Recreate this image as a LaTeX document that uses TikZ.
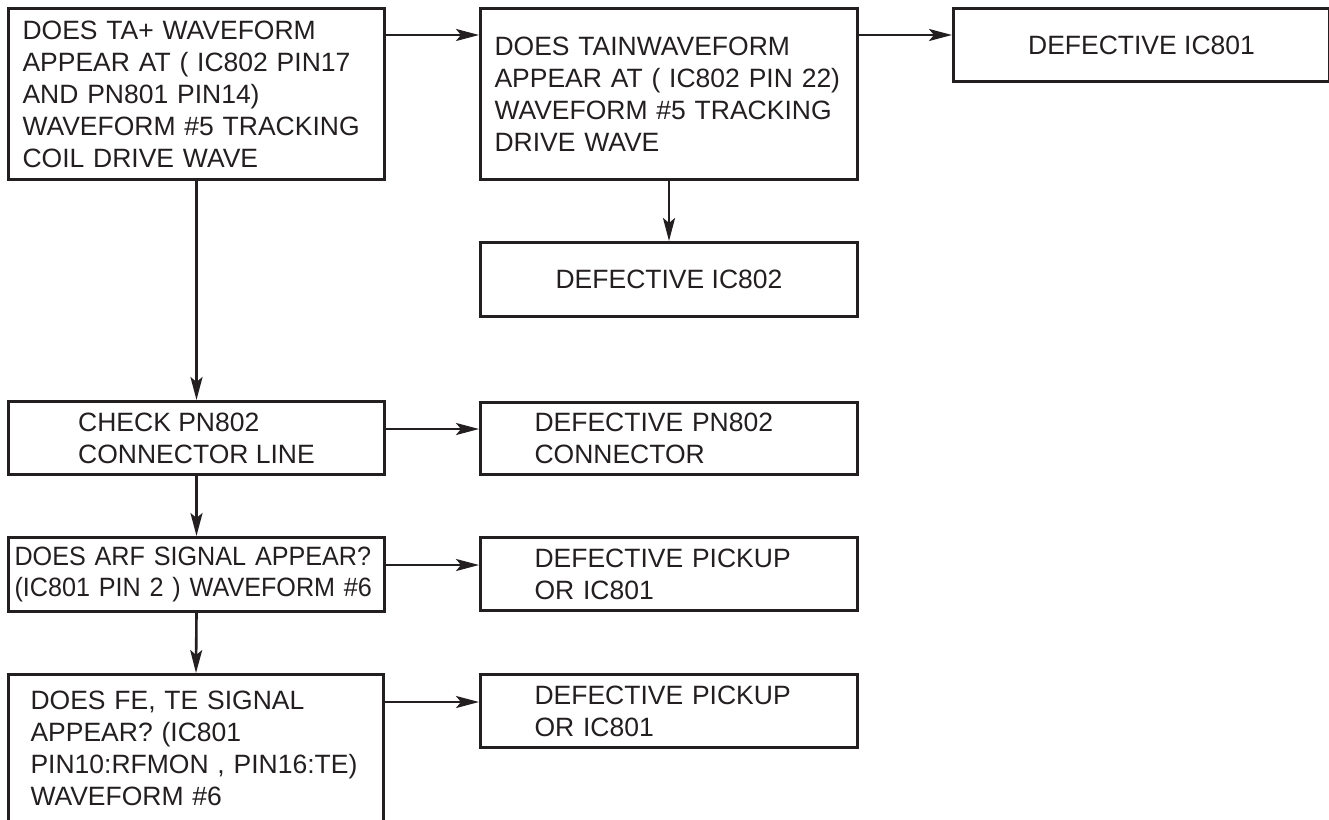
\documentclass[tikz,border=0pt]{standalone}
\usepackage{fontspec}
\setmainfont{Liberation Sans}
\newfontfamily\condfont[FakeStretch=0.95]{Liberation Sans}
\usetikzlibrary{arrows.meta}
\definecolor{ink}{HTML}{231F20}
\begin{document}
\begin{tikzpicture}[x=1pt,y=-1pt,
  box/.style={draw=ink, line width=3pt, text=ink, anchor=north west, inner ysep=0pt,
              font=\fontsize{26.5}{32}\selectfont},
  arr/.style={draw=ink, line width=2.6pt, -{Stealth[length=23pt,width=12pt,inset=5pt]}}]
\useasboundingbox (0,0) rectangle (1329,819);

\node[box, text width=348pt, inner xsep=14pt, minimum width=376pt, minimum height=171pt, align=left] (A) at (7,7)
  {DOES TA+ WAVEFORM\\APPEAR AT ( IC802 PIN17\\AND PN801 PIN14)\\WAVEFORM \#5 TRACKING\\COIL DRIVE WAVE};
\node[box, text width=349pt, inner xsep=14pt, minimum width=377pt, minimum height=171pt, align=left] (B) at (479,7)
  {DOES TAINWAVEFORM\\APPEAR AT ( IC802 PIN 22)\\WAVEFORM \#5 TRACKING\\DRIVE WAVE};
\node[box, minimum width=376pt, minimum height=73pt, align=center] (C) at (952,7) {DEFECTIVE IC801};
\node[box, minimum width=377pt, minimum height=74pt, align=center] (D) at (479,241) {DEFECTIVE IC802};

\node[box, minimum width=376pt, minimum height=73pt, align=left] (E) at (7,400)
  {CHECK PN802\\CONNECTOR LINE};
\node[box, text width=269pt, inner xsep=54pt, minimum width=377pt, minimum height=72pt, align=left] (F) at (479,401)
  {DEFECTIVE PN802\\CONNECTOR};

\node[box, text width=364pt, inner xsep=6pt, minimum width=376pt, minimum height=74pt, align=left,
      font=\condfont\fontsize{26.5}{31}\selectfont] (G) at (7,536)
  {DOES ARF SIGNAL APPEAR?\\(IC801 PIN 2 ) WAVEFORM \#6};
\node[box, text width=269pt, inner xsep=54pt, minimum width=377pt, minimum height=73pt, align=left] (H) at (479,536)
  {DEFECTIVE PICKUP\\OR IC801};

\node[box, text width=331pt, inner xsep=22pt, minimum width=375pt, minimum height=170pt,
      text height=19pt, text depth=119pt, align=left] (I) at (7,673)
  {DOES FE, TE SIGNAL\\APPEAR? (IC801\\PIN10:RFMON , PIN16:TE)\\WAVEFORM \#6};
\node[box, text width=269pt, inner xsep=54pt, minimum width=377pt, minimum height=73pt, align=left] (J) at (479,673)
  {DEFECTIVE PICKUP\\OR IC801};

\coordinate (a1) at ([yshift=-28pt]A.north east);
\coordinate (b1) at ([yshift=-28pt]B.north east);
\coordinate (e1) at ([yshift=-29pt]E.north east);
\coordinate (g1) at ([yshift=-29pt]G.north east);
\coordinate (i1) at ([yshift=-29pt]I.north east);

\draw[arr] (a1) -- (a1 -| B.west);
\draw[arr] (b1) -- (b1 -| C.west);
\draw[arr] (B.south) -- (D.north);
\draw[arr] (A.south) -- (E.north);
\draw[arr] (e1) -- (e1 -| F.west);
\draw[arr] (E.south) -- (G.north);
\draw[arr] (g1) -- (g1 -| H.west);
\draw[arr] (G.south) -- (I.north);
\draw[arr] (i1) -- (i1 -| J.west);
\end{tikzpicture}
\end{document}
